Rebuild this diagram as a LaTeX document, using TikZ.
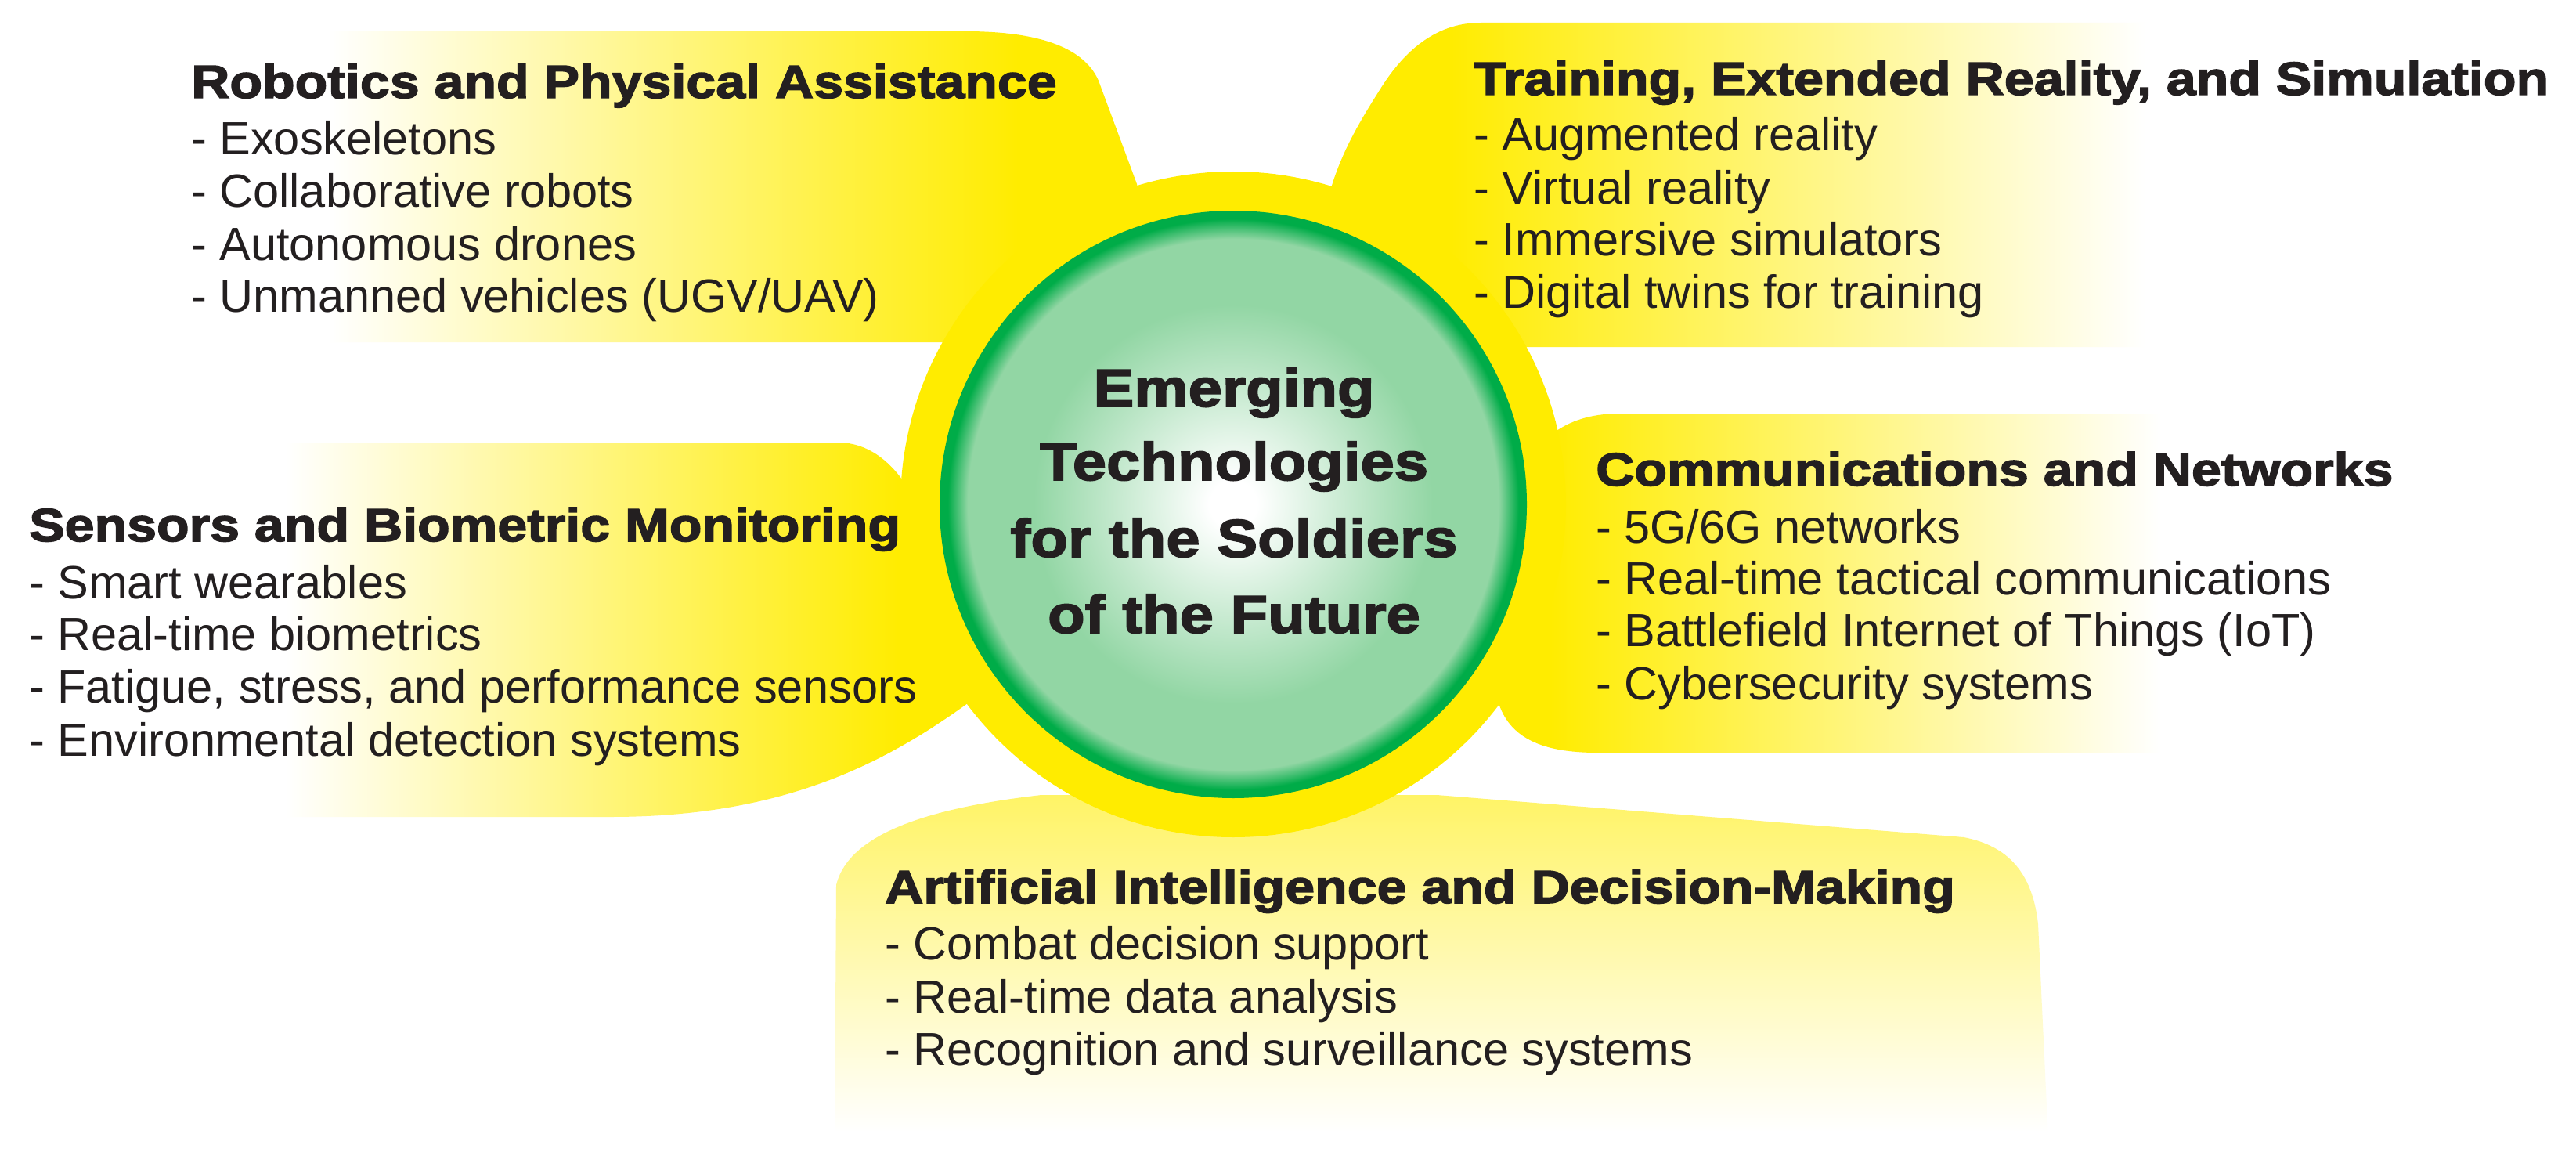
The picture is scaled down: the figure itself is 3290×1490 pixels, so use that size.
\documentclass[tikz,border=0pt]{standalone}
\usepackage{fontspec}
\setmainfont{Liberation Sans}
\newfontfamily\hfont[FakeStretch=1.145,FakeBold=2.5]{Liberation Sans Bold}
\definecolor{Y}{RGB}{255,236,0}
\definecolor{lg}{RGB}{146,214,164}
\definecolor{gr}{RGB}{0,172,72}
\definecolor{txt}{RGB}{35,31,32}
\pgfdeclareradialshading{ball}{\pgfpoint{0bp}{0bp}}{color(0bp)=(white); color(2bp)=(white); color(17bp)=(lg); color(22.6bp)=(lg); color(24.3bp)=(gr); color(25bp)=(gr); color(50bp)=(gr)}
\begin{document}
\begin{tikzpicture}[x=1pt,y=-1pt,
  item/.style={anchor=base west, inner sep=0pt, text=txt, font=\fontsize{59.5}{67}\selectfont},
  head/.style={anchor=base west, inner sep=0pt, text=txt, font=\fontsize{59.5}{67}\selectfont\hfont},
  ctext/.style={anchor=base, inner sep=0pt, text=txt, font=\fontsize{68}{96}\selectfont\hfont}]
\useasboundingbox[fill=white] (0,0) rectangle (3290,1490);
% petal: robotics
\begin{scope}
\clip (400,40) -- (1233,40) .. controls (1330,40) and (1385,62) .. (1403,103) -- (1452,235) -- (1470,330) -- (1215,437) -- (400,437) -- cycle;
\shade[left color=white,right color=Y] (420,0) rectangle (1300,500);
\fill[Y] (1300,0) rectangle (1500,500);
\end{scope}
% petal: training
\begin{scope}
\clip (2800,29) -- (1891,29) .. controls (1830,29) and (1790,70) .. (1762,115) .. controls (1740,150) and (1715,190) .. (1700,240) -- (1690,330) -- (1945,443) -- (2800,443) -- cycle;
\fill[Y] (1650,0) rectangle (1850,500);
\shade[left color=Y,right color=white] (1850,0) rectangle (2740,500);
\end{scope}
% petal: sensors
\begin{scope}
\clip (360,565) -- (1070,565) .. controls (1105,565) and (1132,585) .. (1152,612) -- (1300,700) -- (1240,895) .. controls (1130,975) and (1000,1043) .. (780,1043) -- (360,1043) -- cycle;
\shade[left color=white,right color=Y] (365,500) rectangle (1150,1100);
\fill[Y] (1150,500) rectangle (1320,1100);
\end{scope}
% petal: communications
\begin{scope}
\clip (2800,528) -- (2070,528) .. controls (2030,528) and (2005,538) .. (1985,552) -- (1900,620) -- (1908,860) .. controls (1910,930) and (1950,961) .. (2040,961) -- (2800,961) -- cycle;
\fill[Y] (1880,500) rectangle (1980,1000);
\shade[left color=Y,right color=white] (1980,500) rectangle (2760,1000);
\end{scope}
% petal: AI
\begin{scope}
\clip (1066,1456) -- (1068,1130) .. controls (1085,1060) and (1200,1030) .. (1330,1015) -- (1835,1015) -- (2508,1069) .. controls (2565,1080) and (2596,1115) .. (2603,1180) -- (2616,1456) -- cycle;
\shade[top color=Y!60!white,bottom color=white] (1050,1015) rectangle (2630,1445);
\end{scope}
% centre
\node[circle, fill=Y, minimum size=850pt, inner sep=0pt] (ring) at (1575,644) {};
\node[circle, shade, shading=ball, minimum size=750pt, inner sep=0pt] (core) at (1575,644) {};
\node[ctext] (c1) at (1576,519) {Emerging};
\node[ctext] (c2) at (1576,613) {Technologies};
\node[ctext] (c3) at (1576,711) {for the Soldiers};
\node[ctext] (c4) at (1576,808) {of the Future};
% robotics
\node[head] (h1) at (244,125) {Robotics and Physical Assistance};
\node[item] (a1) at (244,198) {- Exoskeletons};
\node[item] (a2) at (244,265) {- Collaborative robots};
\node[item] (a3) at (244,332) {- Autonomous drones};
\node[item] (a4) at (244,398) {- Unmanned vehicles (UGV/UAV)};
% training
\node[head] (h2) at (1882,121) {Training, Extended Reality, and Simulation};
\node[item] (b1) at (1882,193) {- Augmented reality};
\node[item] (b2) at (1882,260) {- Virtual reality};
\node[item] (b3) at (1882,326) {- Immersive simulators};
\node[item] (b4) at (1882,393) {- Digital twins for training};
% sensors
\node[head] (h3) at (37,691) {Sensors and Biometric Monitoring};
\node[item] (s1) at (37,764) {- Smart wearables};
\node[item] (s2) at (37,830) {- Real-time biometrics};
\node[item] (s3) at (37,897) {- Fatigue, stress, and performance sensors};
\node[item] (s4) at (37,965) {- Environmental detection systems};
% communications
\node[head] (h4) at (2038,620) {Communications and Networks};
\node[item] (n1) at (2038,693) {- 5G/6G networks};
\node[item] (n2) at (2038,759) {- Real-time tactical communications};
\node[item] (n3) at (2038,825) {- Battlefield Internet of Things (IoT)};
\node[item] (n4) at (2038,893) {- Cybersecurity systems};
% AI
\node[head] (h5) at (1130,1153) {Artificial Intelligence and Decision-Making};
\node[item] (i1) at (1130,1225) {- Combat decision support};
\node[item] (i2) at (1130,1293) {- Real-time data analysis};
\node[item] (i3) at (1130,1360) {- Recognition and surveillance systems};
\end{tikzpicture}
\end{document}
